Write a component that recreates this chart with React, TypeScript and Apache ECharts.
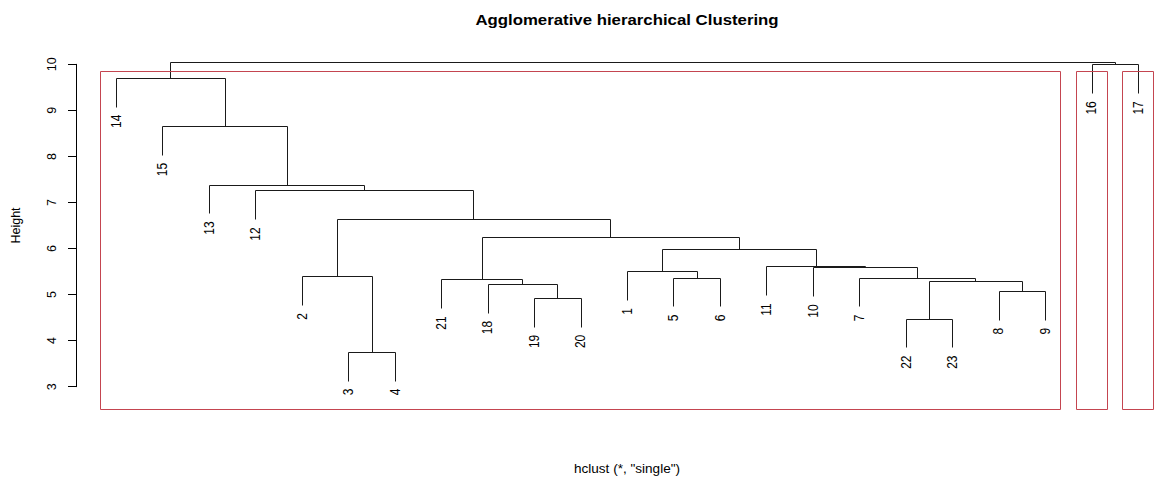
import React, { useEffect, useRef } from "react";
import * as echarts from "echarts";

// ---- data ----
const leafOrder = ["14","15","13","12","2","3","4","21","18","19","20","1","5","6","11","10","7","22","23","8","9","16","17"];
// R-style merge matrix: negative = observation, positive = earlier merge (1-based)
const mergeLeft = [-3, -22, -19, -8, -18, 2, -21, -5, -7, -2, -1, -10, -11, 11, 7, 10, -12, -13, -15, -14, -16, 20];
const mergeRight = [-4, -23, -20, -9, 3, 4, 5, -6, 6, 1, 8, 9, 12, 13, 14, 15, 16, 17, 18, 19, -17, 21];
const mergeHeight = [3.76, 4.48, 4.93, 5.08, 5.23, 5.30, 5.33, 5.37, 5.37, 5.40, 5.51, 5.59, 5.61, 6.00, 6.24, 6.65, 7.26, 7.39, 8.66, 9.71, 10.00, 10.04];
const clusterSizes = [21, 1, 1]; // rect.hclust(k = 3)
const plotBottom = 2.51;
const yTicks = [3, 4, 5, 6, 7, 8, 9, 10];
const titleText = "Agglomerative hierarchical Clustering";
const subText = 'hclust (*, "single")';
const yName = "Height";

const FONT = "'Liberation Sans', Arial, sans-serif";

function buildTree() {
  const hang = 0.1 * (Math.max(...mergeHeight) - Math.min(...mergeHeight));
  const nodeX: number[] = [];
  const segs: number[][] = [];
  const leaves: number[][] = [];
  for (let i = 0; i < mergeHeight.length; i++) {
    const h = mergeHeight[i];
    const info = (c: number) => {
      if (c < 0) {
        const idx = leafOrder.indexOf(String(-c));
        const x = idx + 1;
        leaves.push([x, h - hang, idx]);
        return [x, h - hang];
      }
      return [nodeX[c - 1], mergeHeight[c - 1]];
    };
    const [xl, hl] = info(mergeLeft[i]);
    const [xr, hr] = info(mergeRight[i]);
    nodeX.push((xl + xr) / 2);
    segs.push([xl, hl, xr, hr, h]);
  }
  const sorted = [...mergeHeight].sort((a, b) => b - a);
  const k = clusterSizes.length;
  const yTop = (sorted[k - 2] + sorted[k - 1]) / 2;
  const rects: number[][] = [];
  let cum = 0;
  for (const s of clusterSizes) {
    rects.push([cum + 0.66, yTop, cum + s + 0.33, plotBottom]);
    cum += s;
  }
  return { segs, leaves, rects };
}

const crisp = (v: number) => Math.round(v) + 0.5;

export default function App() {
  const ref = useRef<HTMLDivElement>(null);
  useEffect(() => {
    if (!ref.current) return;
    document.body.style.margin = "0";
    const chart = echarts.init(ref.current, undefined, { renderer: "svg" });
    const { segs, leaves, rects } = buildTree();
    chart.setOption({
      animation: false,
      backgroundColor: "#ffffff",
      grid: { left: 116, right: 17, top: 64.3, height: 322.4, outerBoundsMode: "none" },
      xAxis: { type: "value", min: 1, max: leafOrder.length, show: false },
      yAxis: {
        type: "value",
        min: yTicks[0],
        max: yTicks[yTicks.length - 1],
        interval: 1,
        offset: 40,
        name: yName,
        nameLocation: "middle",
        nameRotate: 90,
        nameGap: 54,
        nameTextStyle: { color: "#000", fontSize: 12.5, fontFamily: FONT },
        axisLine: { show: true, lineStyle: { color: "#000", width: 1 } },
        axisTick: { show: true, length: 8, lineStyle: { color: "#000" } },
        axisLabel: { rotate: 90, margin: 18, color: "#000", fontSize: 12.5, fontFamily: FONT },
        splitLine: { show: false },
      },
      graphic: [
        {
          type: "text",
          x: 627,
          y: 20,
          scaleX: 1.2,
          style: { text: titleText, align: "center", verticalAlign: "middle", fill: "#000", font: `bold 14px ${FONT}` },
        },
        {
          type: "text",
          x: 627,
          y: 469,
          scaleX: 1.13,
          style: { text: subText, align: "center", verticalAlign: "middle", fill: "#000", font: `12px ${FONT}` },
        },
      ],
      series: [
        {
          type: "custom",
          clip: false,
          data: segs,
          renderItem: (_p: any, api: any) => {
            const a = api.coord([api.value(0), api.value(1)]);
            const b = api.coord([api.value(0), api.value(4)]);
            const c = api.coord([api.value(2), api.value(4)]);
            const d = api.coord([api.value(2), api.value(3)]);
            const pts = [a, b, c, d].map((p: number[]) => [crisp(p[0]), crisp(p[1])]);
            return { type: "polyline", shape: { points: pts }, style: { stroke: "#1a1a1a", fill: "none", lineWidth: 1 } };
          },
        },
        {
          type: "custom",
          clip: false,
          data: leaves,
          renderItem: (_p: any, api: any) => {
            const p = api.coord([api.value(0), api.value(1)]);
            return {
              type: "text",
              x: p[0],
              y: p[1] + 8,
              rotation: Math.PI / 2,
              scaleY: 1.15,
              style: {
                text: leafOrder[api.value(2)],
                align: "right",
                verticalAlign: "middle",
                fill: "#000",
                font: `12px ${FONT}`,
              },
            };
          },
        },
        {
          type: "custom",
          clip: false,
          data: rects,
          renderItem: (_p: any, api: any) => {
            const a = api.coord([api.value(0), api.value(1)]);
            const b = api.coord([api.value(2), api.value(3)]);
            const x = crisp(a[0]);
            const y = crisp(a[1]);
            return {
              type: "rect",
              shape: { x, y, width: Math.round(b[0] - a[0]), height: Math.round(b[1] - a[1]) },
              style: { stroke: "#c44550", fill: "none", lineWidth: 1 },
            };
          },
        },
      ],
    });
    return () => chart.dispose();
  }, []);
  return <div ref={ref} style={{ position: "fixed", left: 0, top: 0, width: 1155, height: 485 }} />;
}
